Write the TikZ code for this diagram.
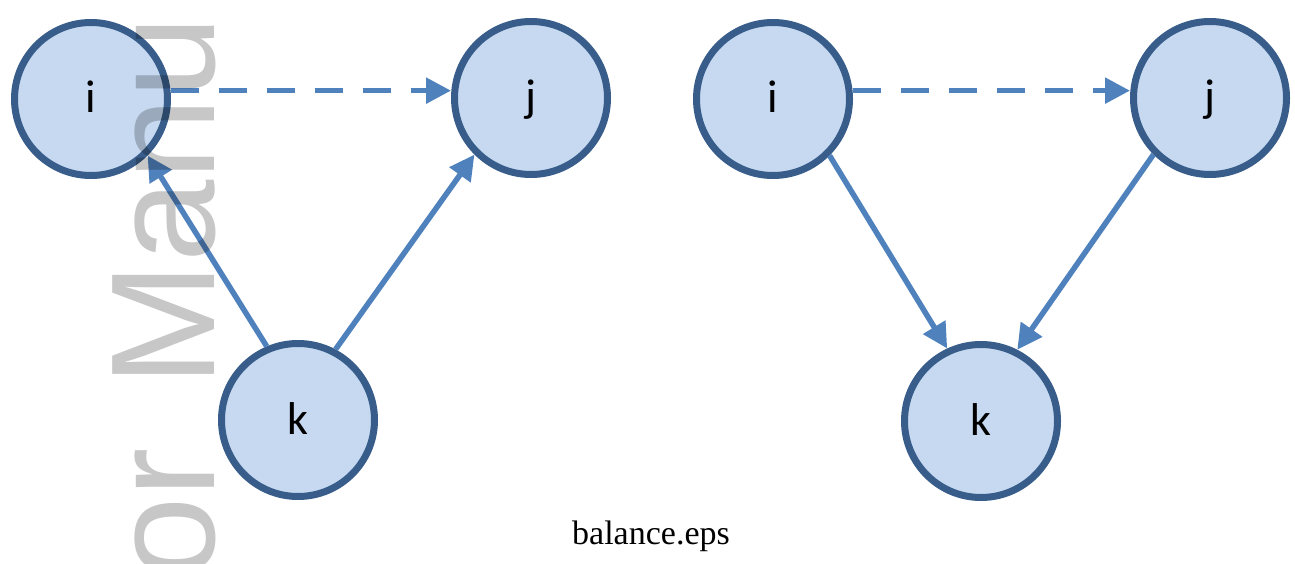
\documentclass[tikz,border=0pt]{standalone}
\usepackage{fontspec}
\setmainfont{Liberation Serif}
\newfontfamily\labelfont{Carlito}
\newfontfamily\markfont{Liberation Sans}
\usetikzlibrary{arrows.meta}

\definecolor{nodefill}{RGB}{198,217,240}
\definecolor{nodeline}{RGB}{56,93,138}
\definecolor{linkcol}{RGB}{79,129,189}

\tikzset{
  vertex/.style={circle, draw=nodeline, fill=nodefill, line width=7pt,
    minimum size=153pt, inner sep=0pt,
    font=\labelfont\fontsize{46}{50}\selectfont,
    text height=28pt, text depth=0pt},
  link/.style={draw=linkcol, line width=5.5pt,
    -{Triangle[length=25pt,width=25pt]}},
  dlink/.style={link, dash pattern=on 28pt off 20pt}
}

\begin{document}
\begin{tikzpicture}[x=1pt,y=1pt]
  \useasboundingbox (0,0) rectangle (1295,563);

  % left triangle
  \node[vertex] (Li) at (91,464) {i};
  \node[vertex] (Lj) at (531,465) {j};
  \node[vertex] (Lk) at (298,143) {k};
  \draw[dlink] (Li.6.5) -- (Li.6.5 -| Lj.west);
  \draw[link] (Lk.113) -- (Li.-45);
  \draw[link] (Lk.62) -- (Lj.-135);

  % right triangle
  \node[vertex] (Ri) at (773,464) {i};
  \node[vertex] (Rj) at (1210,465) {j};
  \node[vertex] (Rk) at (981,142) {k};
  \draw[dlink] (Ri.6.5) -- (Ri.6.5 -| Rj.west);
  \draw[link] (Ri.-45) -- (Rk.115);
  \draw[link] (Rj.-135) -- (Rk.63);

  % caption
  \node[anchor=base, font=\fontsize{34}{40}\selectfont] (cap) at (651,19) {balance.eps};

  % watermark
  \begin{scope}
    \clip (0,0) rectangle (1295,563);
    \node[rotate=90, anchor=base west, inner sep=0pt, text=black, text opacity=0.22,
      font=\markfont\fontsize{148}{160}\selectfont] (wm) at (214,-17)
      {or\hspace{0.42em}Manu};
  \end{scope}
\end{tikzpicture}
\end{document}
